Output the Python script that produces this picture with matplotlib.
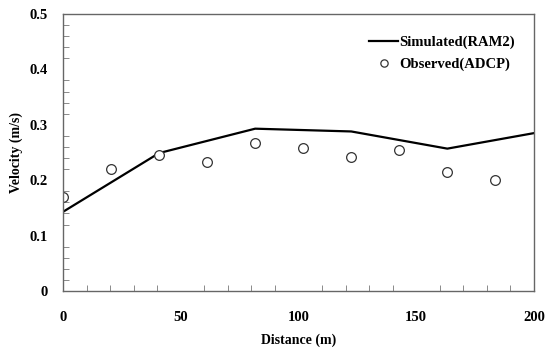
import matplotlib
matplotlib.use("Agg")
import matplotlib.pyplot as plt
from matplotlib.ticker import MultipleLocator

# observed (ADCP) points
obs_x = [0, 20.4, 40.8, 61.2, 81.6, 102, 122.4, 142.8, 163.2, 183.6]
obs_v = [0.170, 0.220, 0.245, 0.233, 0.267, 0.258, 0.242, 0.255, 0.215, 0.200]

# simulated (RAM2) line
sim_x = [0, 40.8, 81.6, 122.4, 163.2, 200]
sim_v = [0.143, 0.249, 0.293, 0.288, 0.257, 0.285]

plt.rcParams['font.family'] = ['Liberation Serif', 'DejaVu Serif']
plt.rcParams['font.weight'] = 'bold'

fig = plt.figure(figsize=(5.47, 3.49), dpi=100)
ax = fig.add_axes([0.1152, 0.166, 0.861, 0.794])

ax.plot(sim_x, sim_v, color='black', lw=1.6, label='Simulated(RAM2)')
ax.plot(obs_x, obs_v, ls='none', marker='o', ms=7, mfc='white', mec='#333333',
        mew=0.9, label='Observed(ADCP)')

ax.set_xlim(0, 200)
ax.set_ylim(0, 0.5)
ax.xaxis.set_major_locator(MultipleLocator(50))
ax.xaxis.set_minor_locator(MultipleLocator(10))
ax.yaxis.set_minor_locator(MultipleLocator(0.02))
ax.set_yticks([0, 0.1, 0.2, 0.3, 0.4, 0.5])
ax.set_yticklabels(['0', '0.1', '0.2', '0.3', '0.4', '0.5'])

ax.tick_params(which='both', direction='in', color='#777777')
ax.tick_params(which='major', length=0, labelsize=10.5)
ax.tick_params(which='minor', length=4)
ax.tick_params(axis='x', which='major', pad=14)
ax.tick_params(axis='y', which='major', pad=11)
for lab in ax.get_xticklabels() + ax.get_yticklabels():
    lab.set_fontweight('bold')

for s in ax.spines.values():
    s.set_color('#666666')
    s.set_linewidth(1.0)

ax.set_xlabel('Distance (m)', fontsize=10, fontweight='bold', labelpad=7)
ax.set_ylabel('Velocity (m/s)', fontsize=10, fontweight='bold', labelpad=5)

ax.legend(loc='upper right', bbox_to_anchor=(0.987, 0.97), frameon=False,
          handlelength=2.0, handletextpad=0.05, labelspacing=0.6,
          markerscale=0.75, prop={'weight': 'bold', 'size': 10.5})

fig.savefig('out.png', dpi=100)
